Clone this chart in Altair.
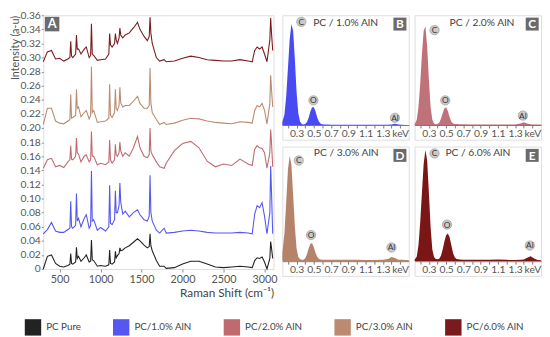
import altair as alt
import pandas as pd

FONT = "Lato"

# ---------------- Raman spectra (panel A) ----------------
series_names = ["PC Pure", "PC/1.0% AlN", "PC/2.0% AlN", "PC/3.0% AlN", "PC/6.0% AlN"]
series_colors = ["#222222", "#5656f2", "#c06a70", "#bb8a70", "#7a1a1c"]

wavenumber = [300, 350, 400, 450, 500, 550, 600, 625, 635, 645,
              660, 695, 705, 715, 730, 760, 800, 825, 860, 878,
              888, 898, 915, 960, 1000, 1060, 1100, 1110, 1120, 1140,
              1170, 1180, 1190, 1205, 1225, 1235, 1245, 1270, 1300, 1350,
              1400, 1450, 1480, 1530, 1570, 1593, 1603, 1613, 1630, 1680,
              1720, 1775, 1800, 1900, 2000, 2100, 2200, 2300, 2400, 2500,
              2600, 2700, 2800, 2850, 2880, 2910, 2940, 2970, 3000, 3030,
              3065, 3075, 3085, 3100]

pc_pure = [0.000, 0.018, 0.020, 0.008, 0.004, 0.003, 0.005, 0.007, 0.022, 0.008,
           0.007, 0.010, 0.031, 0.015, 0.018, 0.011, 0.016, 0.020, 0.010, 0.011,
           0.041, 0.013, 0.012, 0.004, 0.005, 0.004, 0.006, 0.027, 0.008, 0.007,
           0.010, 0.025, 0.016, 0.019, 0.022, 0.030, 0.026, 0.027, 0.030, 0.033,
           0.038, 0.043, 0.040, 0.034, 0.030, 0.032, 0.050, 0.033, 0.026, 0.012,
           0.004, 0.004, 0.001, 0.002, 0.007, 0.011, 0.011, 0.007, 0.003, 0.002,
           0.003, 0.004, 0.003, 0.002, 0.012, 0.016, 0.015, 0.017, 0.010, 0.000,
           0.015, 0.039, 0.030, 0.015]

pc_1 = [0.050, 0.056, 0.066, 0.054, 0.052, 0.052, 0.056, 0.058, 0.096, 0.060,
        0.058, 0.062, 0.107, 0.068, 0.072, 0.060, 0.072, 0.077, 0.058, 0.062,
        0.139, 0.068, 0.070, 0.055, 0.059, 0.054, 0.060, 0.119, 0.065, 0.063,
        0.070, 0.111, 0.080, 0.080, 0.090, 0.122, 0.095, 0.078, 0.082, 0.074,
        0.080, 0.084, 0.077, 0.070, 0.068, 0.075, 0.133, 0.080, 0.068, 0.055,
        0.051, 0.058, 0.051, 0.052, 0.054, 0.055, 0.054, 0.052, 0.051, 0.051,
        0.051, 0.052, 0.051, 0.050, 0.078, 0.090, 0.087, 0.094, 0.075, 0.050,
        0.080, 0.146, 0.110, 0.050]

pc_2 = [0.143, 0.155, 0.157, 0.145, 0.147, 0.144, 0.152, 0.155, 0.175, 0.156,
        0.155, 0.160, 0.186, 0.165, 0.163, 0.152, 0.160, 0.162, 0.152, 0.155,
        0.195, 0.160, 0.160, 0.148, 0.150, 0.148, 0.152, 0.183, 0.155, 0.150,
        0.155, 0.177, 0.162, 0.160, 0.165, 0.180, 0.168, 0.160, 0.165, 0.160,
        0.172, 0.188, 0.172, 0.160, 0.158, 0.162, 0.200, 0.168, 0.162, 0.152,
        0.145, 0.143, 0.150, 0.168, 0.178, 0.181, 0.172, 0.153, 0.145, 0.149,
        0.147, 0.156, 0.149, 0.147, 0.170, 0.175, 0.172, 0.171, 0.165, 0.143,
        0.165, 0.198, 0.180, 0.145]

pc_3 = [0.205, 0.228, 0.228, 0.210, 0.207, 0.206, 0.210, 0.212, 0.248, 0.214,
        0.215, 0.218, 0.255, 0.228, 0.230, 0.216, 0.222, 0.225, 0.213, 0.218,
        0.287, 0.222, 0.225, 0.208, 0.209, 0.210, 0.214, 0.262, 0.218, 0.215,
        0.222, 0.255, 0.228, 0.225, 0.232, 0.258, 0.236, 0.230, 0.232, 0.232,
        0.238, 0.245, 0.235, 0.228, 0.228, 0.232, 0.285, 0.236, 0.222, 0.212,
        0.205, 0.208, 0.205, 0.207, 0.211, 0.214, 0.213, 0.210, 0.208, 0.207,
        0.206, 0.209, 0.208, 0.207, 0.225, 0.232, 0.230, 0.235, 0.225, 0.206,
        0.235, 0.275, 0.255, 0.230]

pc_6 = [0.294, 0.308, 0.310, 0.298, 0.299, 0.295, 0.298, 0.300, 0.323, 0.302,
        0.300, 0.305, 0.332, 0.312, 0.312, 0.305, 0.312, 0.315, 0.300, 0.303,
        0.348, 0.305, 0.303, 0.296, 0.297, 0.298, 0.305, 0.334, 0.318, 0.315,
        0.320, 0.334, 0.325, 0.320, 0.328, 0.342, 0.332, 0.328, 0.332, 0.335,
        0.342, 0.350, 0.340, 0.330, 0.324, 0.330, 0.357, 0.335, 0.320, 0.300,
        0.295, 0.297, 0.294, 0.295, 0.299, 0.302, 0.300, 0.297, 0.296, 0.295,
        0.295, 0.297, 0.295, 0.294, 0.310, 0.315, 0.312, 0.315, 0.305, 0.294,
        0.325, 0.356, 0.335, 0.310]

raman_x_ticks = [500, 1000, 1500, 2000, 2500, 3000]
raman_y_ticks = [0, 0.02, 0.04, 0.06, 0.08, 0.10, 0.12, 0.14, 0.16, 0.18,
                 0.20, 0.22, 0.24, 0.26, 0.28, 0.30, 0.32, 0.34, 0.36]

# ---------------- EDS spectra (panels B-E) ----------------
kev = [0.135, 0.16, 0.18, 0.20, 0.22, 0.24, 0.26, 0.28, 0.30, 0.32,
       0.34, 0.36, 0.38, 0.40, 0.42, 0.44, 0.46, 0.48, 0.50, 0.52,
       0.54, 0.56, 0.58, 0.60, 0.62, 0.66, 0.70, 0.80, 0.90, 1.00,
       1.10, 1.20, 1.30, 1.36, 1.40, 1.44, 1.48, 1.52, 1.56, 1.60]

eds_1 = [0.03, 0.10, 0.27, 0.52, 0.78, 0.92, 0.86, 0.60, 0.30, 0.11,
         0.035, 0.012, 0.008, 0.012, 0.03, 0.07, 0.125, 0.165, 0.165, 0.125,
         0.07, 0.032, 0.015, 0.010, 0.008, 0.007, 0.006, 0.006, 0.006, 0.005,
         0.005, 0.005, 0.005, 0.005, 0.008, 0.014, 0.008, 0.005, 0.004, 0.004]

eds_2 = [0.01, 0.05, 0.17, 0.38, 0.65, 0.86, 0.90, 0.72, 0.42, 0.17,
         0.05, 0.018, 0.011, 0.012, 0.025, 0.06, 0.11, 0.155, 0.165, 0.13,
         0.075, 0.035, 0.018, 0.013, 0.012, 0.010, 0.010, 0.009, 0.009, 0.008,
         0.008, 0.008, 0.008, 0.016, 0.028, 0.018, 0.010, 0.008, 0.007, 0.007]

eds_3 = [0.07, 0.25, 0.52, 0.80, 0.92, 0.84, 0.58, 0.30, 0.11, 0.035,
         0.015, 0.012, 0.012, 0.025, 0.06, 0.11, 0.15, 0.155, 0.12, 0.07,
         0.035, 0.018, 0.014, 0.012, 0.011, 0.011, 0.010, 0.010, 0.010, 0.010,
         0.009, 0.009, 0.010, 0.018, 0.036, 0.026, 0.012, 0.010, 0.009, 0.009]

eds_6 = [0.01, 0.04, 0.14, 0.34, 0.60, 0.85, 0.97, 0.88, 0.60, 0.30,
         0.10, 0.035, 0.018, 0.015, 0.02, 0.045, 0.10, 0.17, 0.225, 0.24,
         0.21, 0.14, 0.07, 0.032, 0.018, 0.013, 0.012, 0.010, 0.010, 0.012,
         0.014, 0.010, 0.009, 0.010, 0.014, 0.028, 0.042, 0.022, 0.008, 0.007]

kev_ticks = [0.2, 0.3, 0.4, 0.5, 0.6, 0.7, 0.8, 0.9, 1.0, 1.1, 1.2, 1.3, 1.4, 1.5]

element_names = ["C", "O", "Al"]
el_kev_1 = [0.355, 0.495, 1.44]
el_y_1 = [0.94, 0.227, 0.069]
el_kev_2 = [0.366, 0.49, 1.39]
el_y_2 = [0.865, 0.227, 0.089]
el_kev_3 = [0.325, 0.468, 1.40]
el_y_3 = [0.878, 0.227, 0.118]
el_kev_6 = [0.366, 0.51, 1.47]
el_y_6 = [0.94, 0.318, 0.135]

panel_titles = ["PC / 1.0% AlN", "PC / 2.0% AlN", "PC / 3.0% AlN", "PC / 6.0% AlN"]
panel_title_kev = [0.868, 0.916, 0.875, 0.868]
panel_title_y = [0.925, 0.925, 0.946, 0.946]
panel_letters = ["B", "C", "D", "E"]
panel_colors = ["#4a4af2", "#c0727b", "#b5826a", "#7a1616"]

BADGE = "#6b6b6b"

# ---------------- Panel A ----------------
rows = []
for name, vals in zip(series_names, [pc_pure, pc_1, pc_2, pc_3, pc_6]):
    for w, v in zip(wavenumber, vals):
        rows.append({"w": w, "v": v, "s": name})
raman_df = pd.DataFrame(rows)

xA = alt.X("w:Q", scale=alt.Scale(domain=[300, 3110], nice=False, zero=False),
           axis=alt.Axis(values=raman_x_ticks, tickCount=len(raman_x_ticks), format="d",
                         title="Raman Shift (cm⁻¹)",
                         titleAnchor="end", titleFontSize=12, titleFontWeight="normal",
                         titleColor="#444", titleFont=FONT, titlePadding=3,
                         labelFont=FONT, labelFontSize=11, labelColor="#555",
                         tickSize=3, tickColor="#888", domain=False, grid=False,
                         labelPadding=2))
yA = alt.Y("v:Q", scale=alt.Scale(domain=[0, 0.36], nice=False),
           axis=alt.Axis(values=raman_y_ticks, tickCount=len(raman_y_ticks),
                         labelExpr="datum.value == 0 ? '0' : format(datum.value, '.2f')",
                         title="Intensity (a-u)", titleAnchor="end", titleFontSize=11,
                         titleFontWeight="normal", titleColor="#555", titleFont=FONT,
                         titlePadding=0, labelFont=FONT, labelFontSize=10.5,
                         labelColor="#555", tickSize=2, tickColor="#888",
                         domain=False, grid=False, labelPadding=1))

lines = alt.Chart(raman_df).mark_line(strokeWidth=1.1).encode(
    x=xA, y=yA,
    color=alt.Color("s:N", scale=alt.Scale(domain=series_names, range=series_colors),
                    legend=None),
)
badgeA = alt.Chart(pd.DataFrame({"t": ["A"]})).mark_square(
    size=220, color=BADGE, opacity=1, xOffset=9, yOffset=9
).encode(x=alt.datum(300), y=alt.datum(0.36))
badgeA_t = alt.Chart(pd.DataFrame({"t": ["A"]})).mark_text(
    color="white", fontWeight="bold", fontSize=13, font=FONT, xOffset=9, yOffset=9.5
).encode(x=alt.datum(300), y=alt.datum(0.36), text="t:N")

panelA = alt.layer(lines, badgeA, badgeA_t).properties(width=235, height=259)


# ---------------- Panels B-E ----------------
def eds_panel(i, vals, el_k, el_y, height):
    df = pd.DataFrame({"k": kev, "v": vals})
    off = -round(height * (0.13 / 1.13))
    xs = alt.X("k:Q", scale=alt.Scale(domain=[0.135, 1.60], nice=False, zero=False),
               axis=alt.Axis(values=kev_ticks, tickCount=len(kev_ticks),
                             labelExpr="datum.value > 1.45 ? 'keV' : (round(datum.value*10) % 2 == 1 ? format(datum.value, '.1f') : '')",
                             title=None, offset=off, labelFont=FONT, labelFontSize=10.5,
                             labelColor="#555", tickSize=3, tickColor="#777",
                             domainColor="#777", grid=False, labelPadding=1,
                             labelFlush=False, zindex=1))
    ys = alt.Y("v:Q", scale=alt.Scale(domain=[-0.13, 1.0], nice=False, zero=False),
               axis=None)
    area = alt.Chart(df).mark_area(color=panel_colors[i], opacity=1).encode(
        x=xs, y=ys, y2=alt.datum(0))
    el_df = pd.DataFrame({"e": element_names, "k": el_k, "y": el_y})
    circ = alt.Chart(el_df).mark_circle(size=90, color="#cbcbcb", opacity=1,
                                        stroke="#9a9a9a", strokeWidth=0.7).encode(
        x="k:Q", y="y:Q")
    circ_t = alt.Chart(el_df).mark_text(fontSize=8.5, font=FONT, color="#333").encode(
        x="k:Q", y="y:Q", text="e:N")
    t_df = pd.DataFrame({"t": [panel_titles[i]], "k": [panel_title_kev[i]],
                         "y": [panel_title_y[i]]})
    title = alt.Chart(t_df).mark_text(fontSize=10.5, font=FONT, color="#444").encode(
        x="k:Q", y="y:Q", text="t:N")
    b_df = pd.DataFrame({"t": [panel_letters[i]]})
    badge = alt.Chart(b_df).mark_square(size=175, color=BADGE, opacity=1,
                                        xOffset=-9, yOffset=9).encode(
        x=alt.datum(1.60), y=alt.datum(1.0))
    badge_t = alt.Chart(b_df).mark_text(color="white", fontWeight="bold", fontSize=12,
                                        font=FONT, xOffset=-9, yOffset=9.5).encode(
        x=alt.datum(1.60), y=alt.datum(1.0), text="t:N")
    return alt.layer(area, circ, circ_t, title, badge, badge_t).properties(
        width=129, height=height)


pB = eds_panel(0, eds_1, el_kev_1, el_y_1, 127)
pC = eds_panel(1, eds_2, el_kev_2, el_y_2, 127)
pD = eds_panel(2, eds_3, el_kev_3, el_y_3, 132)
pE = eds_panel(3, eds_6, el_kev_6, el_y_6, 132)

grid = alt.vconcat(
    alt.hconcat(pB, pC, spacing=4).resolve_scale(x="independent", y="independent"),
    alt.hconcat(pD, pE, spacing=4).resolve_scale(x="independent", y="independent"),
    spacing=5,
).resolve_scale(x="independent", y="independent")

top = alt.hconcat(panelA, grid, spacing=3).resolve_scale(
    x="independent", y="independent", color="independent")

# ---------------- Legend ----------------
legend_chart = alt.Chart(pd.DataFrame({"s": series_names})).mark_square(opacity=0).encode(
    color=alt.Color("s:N", scale=alt.Scale(domain=series_names, range=series_colors),
                    legend=alt.Legend(orient="none", legendX=-19, legendY=17,
                                      direction="horizontal", columns=5, title=None,
                                      symbolType="square", symbolSize=280,
                                      symbolOpacity=1, symbolStrokeWidth=0,
                                      labelFont=FONT, labelFontSize=10,
                                      labelColor="#444", labelOffset=5,
                                      columnPadding=32))
).properties(width=400, height=1,
             view=alt.ViewBackground(fill="#ffffff", stroke="#ffffff", strokeWidth=0))

chart = alt.vconcat(top, legend_chart, spacing=0).resolve_scale(
    color="independent").resolve_legend(color="independent").properties(
    padding={"left": 0, "top": -2, "right": 0, "bottom": 0}
).configure_view(fill="#f2f2f2", stroke="#a8a8a8", strokeWidth=1).configure_axis(
    labelOverlap=False).configure(background="#ffffff")

chart.save("out.html", embed_options={"renderer": "svg", "actions": False})
